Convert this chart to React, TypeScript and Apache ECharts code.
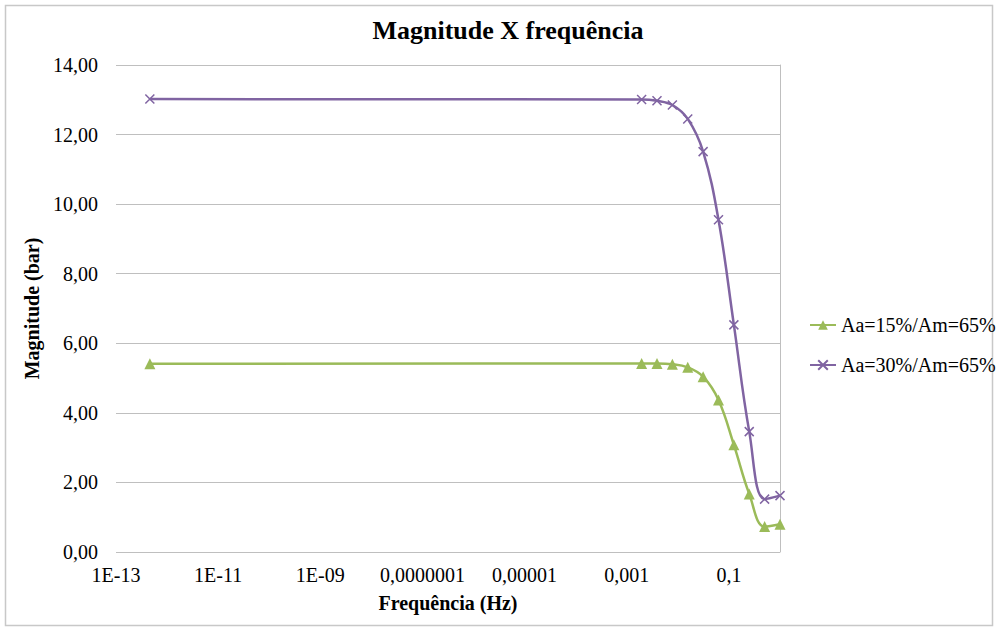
import React, { useEffect, useRef } from "react";
import * as echarts from "echarts";

// Frequency samples (Hz) and magnitude (bar) for the two amplitude settings
const frequencies = [4.6e-13, 0.001953125, 0.00390625, 0.0078125, 0.015625, 0.03125, 0.0625, 0.125, 0.25, 0.5, 1];
const magnitudeAa15 = [5.41, 5.42, 5.42, 5.4, 5.31, 5.04, 4.37, 3.08, 1.67, 0.73, 0.8];
const magnitudeAa30 = [13.02, 13.01, 12.97, 12.85, 12.45, 11.51, 9.55, 6.53, 3.46, 1.52, 1.62];

const seriesNames = ["Aa=15%/Am=65%", "Aa=30%/Am=65%"];

// Log-axis label positions and their spreadsheet-style texts
const xTickValues = [1e-13, 1e-11, 1e-9, 1e-7, 1e-5, 1e-3, 1e-1];
const xTickLabels = ["1E-13", "1E-11", "1E-09", "0,0000001", "0,00001", "0,001", "0,1"];

const FONT = "Liberation Serif";
const GREEN = "#9BBB59";
const PURPLE = "#8064A2";
const GRID_GRAY = "#BFBFBF";

const toPairs = (ys: number[]) => frequencies.map((f, i) => [f, ys[i]]);

export default function App() {
  const ref = useRef<HTMLDivElement>(null);

  useEffect(() => {
    if (!ref.current) return;
    const chart = echarts.init(ref.current, undefined, { renderer: "svg" });

    const xLabel = (v: number) => {
      const lv = Math.log10(v);
      for (let i = 0; i < xTickValues.length; i++) {
        if (Math.abs(lv - Math.log10(xTickValues[i])) < 0.01) return xTickLabels[i];
      }
      return "";
    };

    const plainText = { fontFamily: FONT, fontSize: 20, color: "#000000" };

    chart.setOption({
      animation: false,
      backgroundColor: "#ffffff",
      textStyle: { fontFamily: FONT },
      graphic: [
        {
          type: "rect",
          shape: { x: 5.5, y: 5.5, width: 987, height: 620 },
          style: { fill: "none", stroke: "#C8C8C8", lineWidth: 1.5 },
          silent: true,
        },
        {
          type: "text",
          x: 508,
          y: 30,
          style: {
            text: "Magnitude X frequência",
            font: `bold 26px ${FONT}`,
            fill: "#000000",
            textAlign: "center",
            textVerticalAlign: "middle",
          },
        },
      ],
      legend: {
        orient: "vertical",
        left: 804,
        top: 310,
        itemWidth: 26,
        itemHeight: 12,
        itemGap: 20,
        textStyle: { ...plainText },
        data: seriesNames,
      },
      grid: { left: 116, right: 218, top: 65, bottom: 79 },
      xAxis: {
        type: "log",
        logBase: 10,
        min: 1e-13,
        max: 1,
        name: "Frequência (Hz)",
        nameLocation: "middle",
        nameGap: 41,
        nameTextStyle: { ...plainText, fontWeight: "bold" },
        axisLine: { show: false },
        axisTick: { show: false },
        splitLine: { show: false },
        axisLabel: {
          customValues: xTickValues,
          formatter: xLabel,
          ...plainText,
          margin: 13,
        },
      },
      yAxis: [
        {
          type: "value",
          min: 0,
          max: 14,
          interval: 2,
          name: "Magnitude (bar)",
          nameLocation: "middle",
          nameGap: 68,
          nameTextStyle: { ...plainText, fontWeight: "bold" },
          axisLine: { show: false },
          axisTick: { show: false },
          splitLine: { show: true, lineStyle: { color: GRID_GRAY, width: 1 } },
          axisLabel: {
            formatter: (v: number) => v.toFixed(2).replace(".", ","),
            ...plainText,
            margin: 18,
          },
        },
        {
          type: "value",
          position: "right",
          min: 0,
          max: 14,
          interval: 2,
          axisLine: { show: true, lineStyle: { color: GRID_GRAY, width: 1 } },
          axisTick: { show: false },
          axisLabel: { show: false },
          splitLine: { show: false },
        },
      ],
      series: [
        {
          name: seriesNames[0],
          type: "line",
          yAxisIndex: 0,
          data: toPairs(magnitudeAa15),
          smooth: 0.4,
          symbol: "triangle",
          symbolSize: 11,
          lineStyle: { color: GREEN, width: 2.5 },
          itemStyle: { color: GREEN },
        },
        {
          name: seriesNames[1],
          type: "line",
          yAxisIndex: 0,
          data: toPairs(magnitudeAa30),
          smooth: 0.4,
          symbol: "path://M0,0L10,10M10,0L0,10",
          symbolSize: 9,
          lineStyle: { color: PURPLE, width: 2.5 },
          itemStyle: { color: PURPLE, borderColor: PURPLE, borderWidth: 1.5 },
        },
      ],
    });

    return () => chart.dispose();
  }, []);

  return (
    <div
      ref={ref}
      style={{ position: "absolute", left: 0, top: 0, width: 998, height: 631 }}
    />
  );
}
